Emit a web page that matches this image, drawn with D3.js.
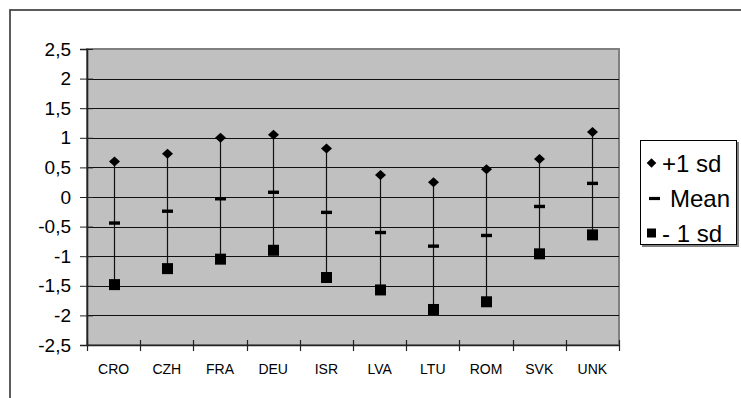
<!DOCTYPE html>
<html>
<head>
<meta charset="utf-8">
<script src="https://cdn.jsdelivr.net/npm/d3@7"></script>
<style>
html,body{margin:0;padding:0;background:#fff;}
svg{display:block;font-family:"Liberation Sans",Arial,sans-serif;}
</style>
</head>
<body>
<svg id="chart" width="741" height="398"></svg>
<script>
const categories = ["CRO","CZH","FRA","DEU","ISR","LVA","LTU","ROM","SVK","UNK"];
const plusOneSd = [0.60, 0.73, 1.00, 1.05, 0.82, 0.37, 0.25, 0.47, 0.64, 1.10];
const meanValues = [-0.44, -0.24, -0.03, 0.08, -0.26, -0.60, -0.83, -0.65, -0.16, 0.23];
const minusOneSd = [-1.48, -1.21, -1.05, -0.90, -1.36, -1.57, -1.90, -1.77, -0.96, -0.64];
const yTicks = [2.5, 2, 1.5, 1, 0.5, 0, -0.5, -1, -1.5, -2, -2.5];
const legendLabels = ["+1 sd", "Mean", "- 1 sd"];

const svg = d3.select("#chart");
const plot = {left: 87, top: 49, right: 619, bottom: 345};

// outer frame
svg.append("rect").attr("x",10).attr("y",10).attr("width",900).attr("height",600)
  .attr("fill","#fff").attr("stroke","#333").attr("stroke-width",1.6);

const x = d3.scaleBand().domain(categories).range([plot.left, plot.right]).padding(0);
const y = d3.scaleLinear().domain([-2.5, 2.5]).range([plot.bottom, plot.top]);

// plot background
svg.append("rect").attr("x",plot.left).attr("y",plot.top)
  .attr("width",plot.right-plot.left).attr("height",plot.bottom-plot.top)
  .attr("fill","#c0c0c0").attr("stroke","#808080").attr("stroke-width",2);

// gridlines
svg.append("g").selectAll("line").data(yTicks.filter(d => d > -2.5 && d < 2.5)).join("line")
  .attr("x1",plot.left).attr("x2",plot.right)
  .attr("y1",d=>Math.round(y(d))+0.5).attr("y2",d=>Math.round(y(d))+0.5)
  .attr("stroke","#111").attr("stroke-width",1);

// y axis
const fmt = d => String(d).replace(".", ",");
const yAxis = d3.axisLeft(y).tickValues(yTicks).tickFormat(fmt).tickSize(7).tickPadding(9);
const gy = svg.append("g").attr("transform",`translate(${plot.left},0)`).call(yAxis);
gy.select(".domain").attr("stroke","#222").attr("stroke-width",1.6);
gy.selectAll(".tick line").attr("stroke","#222").attr("x2",-7).attr("x1",6);
gy.selectAll(".tick text").attr("font-size",19).attr("fill","#000")
  .attr("font-family","Liberation Sans, Arial, sans-serif");

// x axis
const xAxis = d3.axisBottom(x).tickSize(0).tickPadding(19);
const gx = svg.append("g").attr("transform",`translate(0,${plot.bottom})`).call(xAxis);
gx.select(".domain").attr("stroke","#222").attr("stroke-width",1.6);
gx.selectAll(".tick text").attr("font-size",14).attr("fill","#000")
  .attr("font-family","Liberation Sans, Arial, sans-serif");
// category boundary ticks
const bounds = categories.map(c => x(c)).concat([x(categories[categories.length-1]) + x.bandwidth()]);
gx.append("g").selectAll("line").data(bounds).join("line")
  .attr("x1",d=>Math.round(d)+0.5).attr("x2",d=>Math.round(d)+0.5)
  .attr("y1",-5).attr("y2",6).attr("stroke","#222").attr("stroke-width",1.2);

const cx = c => x(c) + x.bandwidth()/2;

// high-low lines
svg.append("g").selectAll("line").data(categories).join("line")
  .attr("x1",c=>Math.round(cx(c))+0.5).attr("x2",c=>Math.round(cx(c))+0.5)
  .attr("y1",(c,i)=>y(plusOneSd[i])).attr("y2",(c,i)=>y(minusOneSd[i]))
  .attr("stroke","#111").attr("stroke-width",1.2);

const diamond = (w, h) => `M0,${-h}L${w},0L0,${h}L${-w},0Z`;

// +1 sd diamonds
svg.append("g").selectAll("path").data(categories).join("path")
  .attr("d", diamond(5.5, 5))
  .attr("transform",(c,i)=>`translate(${Math.round(cx(c))+0.5},${y(plusOneSd[i])})`)
  .attr("fill","#000");

// mean dashes
svg.append("g").selectAll("rect").data(categories).join("rect")
  .attr("x",c=>Math.round(cx(c))+0.5-5.5).attr("y",(c,i)=>y(meanValues[i])-1.7)
  .attr("width",11).attr("height",3.4).attr("fill","#000");

// -1 sd squares
svg.append("g").selectAll("rect").data(categories).join("rect")
  .attr("x",c=>Math.round(cx(c))+0.5-5.5).attr("y",(c,i)=>y(minusOneSd[i])-5.5)
  .attr("width",11).attr("height",11).attr("fill","#000");

// legend
const lg = svg.append("g");
lg.append("rect").attr("x",642).attr("y",142).attr("width",97).attr("height",105).attr("fill","#808080");
lg.append("rect").attr("x",640.5).attr("y",140.5).attr("width",96).attr("height",104)
  .attr("fill","#fff").attr("stroke","#000").attr("stroke-width",1);
const rowY = [163, 198.5, 233];
const textX = [662, 670, 662];
legendLabels.forEach((lab, i) => {
  const yy = rowY[i];
  if (i === 0) lg.append("path").attr("d", diamond(4.8, 4.8)).attr("transform",`translate(651.5,${yy})`).attr("fill","#000");
  if (i === 1) lg.append("rect").attr("x",649).attr("y",yy-1.6).attr("width",11).attr("height",3.2).attr("fill","#000");
  if (i === 2) lg.append("rect").attr("x",647).attr("y",yy-4.5).attr("width",9).attr("height",9).attr("fill","#000");
  lg.append("text").attr("x",textX[i]).attr("y",yy).attr("dy","0.36em")
    .attr("font-size",24).attr("fill","#000").text(lab);
});
</script>
</body>
</html>
